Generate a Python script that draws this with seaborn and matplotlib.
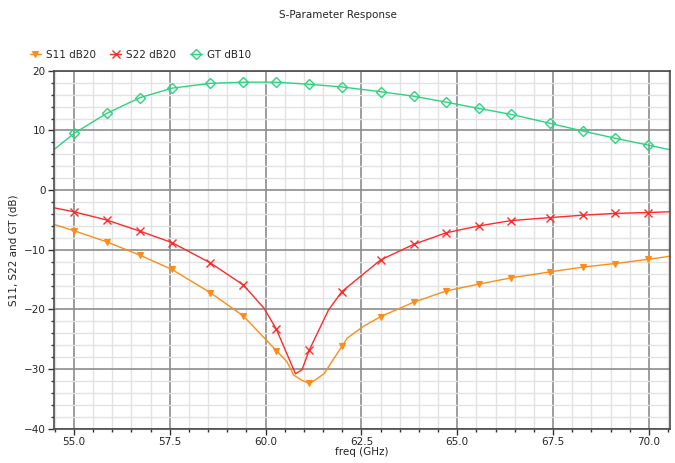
import matplotlib
matplotlib.use("Agg")
import matplotlib.pyplot as plt
import numpy as np
import pandas as pd
import seaborn as sns
from matplotlib.ticker import MultipleLocator

# marker positions shared by all three traces (GHz)
freq_mark = [55.0, 55.85, 56.72, 57.56, 58.56, 59.42, 60.28, 61.14, 61.99,
             63.0, 63.86, 64.71, 65.56, 66.41, 67.42, 68.28, 69.12, 69.98]

s11_mark = [-6.8, -8.65, -10.9, -13.3, -17.2, -21.1, -26.9, -32.4, -26.2,
            -21.2, -18.8, -16.9, -15.75, -14.7, -13.7, -12.9, -12.3, -11.6]
s22_mark = [-3.63, -5.0, -6.87, -8.8, -12.2, -15.9, -23.3, -26.8, -17.0,
            -11.7, -9.1, -7.15, -6.0, -5.1, -4.6, -4.2, -3.9, -3.75]
gt_mark = [9.5, 12.85, 15.5, 17.1, 17.9, 18.1, 18.1, 17.75, 17.3,
           16.5, 15.75, 14.75, 13.7, 12.7, 11.2, 9.9, 8.7, 7.55]

# extra trace points between markers (no marker drawn)
s11_extra_f = [54.48, 60.56, 60.73, 60.95, 61.3, 61.52, 62.13, 62.56, 70.53]
s11_extra_v = [-5.75, -28.8, -31.0, -31.9, -31.8, -30.8, -24.8, -22.8, -11.1]
s22_extra_f = [54.48, 59.96, 60.78, 60.95, 61.64, 70.53]
s22_extra_v = [-2.96, -19.8, -30.8, -30.1, -20.1, -3.63]
gt_extra_f = [54.48, 70.53]
gt_extra_v = [6.8, 6.8]

TITLE = "S-Parameter Response"
XLABEL = "freq (GHz)"
YLABEL = "S11, S22 and GT (dB)"


def build_trace(mark_v, extra_f, extra_v):
    df = pd.DataFrame({
        "freq": list(freq_mark) + list(extra_f),
        "value": list(mark_v) + list(extra_v),
        "marked": [True] * len(freq_mark) + [False] * len(extra_f),
    })
    df = df.sort_values("freq").reset_index(drop=True)
    return df, list(df.index[df["marked"]])


def main() -> None:
    sns.set_style("white")
    plt.rcParams["font.family"] = ["DejaVu Sans"]
    fig = plt.figure(figsize=(6.75, 4.63), dpi=100)
    ax = fig.add_axes([0.08, 0.074, 0.9126, 0.773])

    traces = [
        ("S11 dB20", "#ff8c1a", s11_mark, s11_extra_f, s11_extra_v,
         dict(marker="v", markersize=4, markeredgewidth=0.8,
              markerfacecolor="#ff8c1a")),
        ("S22 dB20", "#ff2a2a", s22_mark, s22_extra_f, s22_extra_v,
         dict(marker="x", markersize=6, markeredgewidth=1.0)),
        ("GT dB10", "#2dd47f", gt_mark, gt_extra_f, gt_extra_v,
         dict(marker="D", markersize=5.5, markeredgewidth=1.0,
              markerfacecolor="none")),
    ]
    for label, color, mv, ef, ev, style in traces:
        df, idx = build_trace(mv, ef, ev)
        sns.lineplot(data=df, x="freq", y="value", ax=ax, estimator=None,
                     sort=False, color=color, linewidth=1.0, linestyle="-",
                     dashes=False, markevery=idx, markeredgecolor=color,
                     label=label, **style)

    ax.set_xlim(54.48, 70.55)
    ax.set_ylim(-40, 20)
    ax.xaxis.set_major_locator(MultipleLocator(2.5))
    ax.xaxis.set_minor_locator(MultipleLocator(0.5))
    ax.yaxis.set_major_locator(MultipleLocator(10))
    ax.yaxis.set_minor_locator(MultipleLocator(2))
    ax.xaxis.set_major_formatter(matplotlib.ticker.FormatStrFormatter("%.1f"))

    ax.grid(which="minor", color="#e2e2e2", linewidth=1.0)
    ax.grid(which="major", color="#8c8c8c", linewidth=1.2)
    ax.set_axisbelow(True)
    for sp in ax.spines.values():
        sp.set_color("#4a4a4a")
        sp.set_linewidth(1.2)

    ax.tick_params(which="major", direction="out", length=4, width=1,
                   color="#333333", labelsize=7.5, bottom=True, left=True,
                   pad=2)
    ax.tick_params(which="minor", direction="out", length=2.5, width=1,
                   color="#333333", bottom=True, left=True)

    ax.set_xlabel(XLABEL, fontsize=7.5, labelpad=0)
    ax.set_ylabel(YLABEL, fontsize=7.5, labelpad=4)
    fig.text(0.5, 0.967, TITLE, ha="center", va="center", fontsize=7.5)

    handles, labels = ax.get_legend_handles_labels()
    ax.legend_.remove()
    fig.legend(handles, labels, loc="center left",
               bbox_to_anchor=(0.03, 0.882), ncol=3, frameon=False,
               fontsize=7.5, handlelength=1.1, handletextpad=0.5,
               columnspacing=1.3)

    fig.savefig("out.png", dpi=100)
    plt.close(fig)


if __name__ == "__main__":
    main()
